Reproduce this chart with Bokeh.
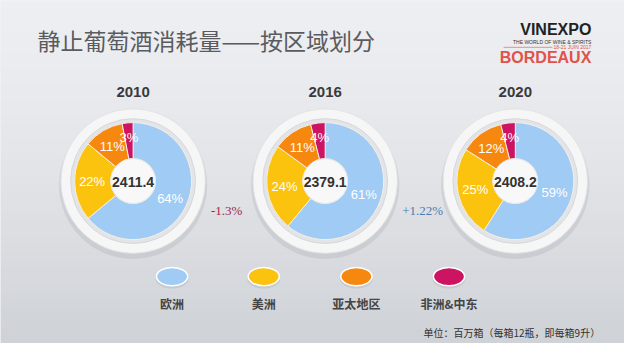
import numpy as np
from bokeh.plotting import figure
from bokeh.models import Range1d
from bokeh.core.properties import value
from bokeh.embed import file_html
from bokeh.resources import INLINE

# ---- data ----
years = ["2010", "2016", "2020"]
regions = ["欧洲", "美洲", "亚太地区", "非洲&中东"]
region_colors = ["#9fcbf5", "#fcc30e", "#f6870f", "#cd1462"]
share_2010 = [64, 22, 11, 3]
share_2016 = [61, 24, 11, 4]
share_2020 = [59, 25, 12, 4]
shares = [share_2010, share_2016, share_2020]
totals = ["2411.4", "2379.1", "2408.2"]
changes = ["-1.3%", "+1.22%"]
change_colors = ["#9b2a4e", "#4a7eae"]
title_text = "静止葡萄酒消耗量——按区域划分"
unit_text = "单位：百万箱（每箱12瓶，即每箱9升）"

# ---- layout ----
W, H = 624, 343
cx_list = [136, 333, 528]
cy = 189
R_OUT, R_PIE, R_HOLE = 74, 60, 23

p = figure(width=W, height=H, x_range=Range1d(0, 640), y_range=Range1d(359, 0),
           output_backend="svg", toolbar_location=None, min_border=0,
           x_axis_type=None, y_axis_type=None)
p.grid.visible = False
p.outline_line_color = None
p.background_fill_color = "#e4e6ea"
p.border_fill_color = "#e4e6ea"

# background vertical gradient (decoration)
n = 45
edges = np.linspace(0, 359, n + 1)
c_top = np.array([0xee, 0xef, 0xf2])
c_bot = np.array([0xcf, 0xd2, 0xd7])
cols = []
for i in range(n):
    t = (i / (n - 1)) ** 1.4
    c = (c_top * (1 - t) + c_bot * t).astype(int)
    cols.append("#%02x%02x%02x" % tuple(c))
p.quad(left=0, right=640, top=edges[:-1], bottom=edges[1:] + 0.5, fill_color=cols, line_color=None)

f_sans = value("Liberation Sans")
f_cjk = value("Noto Sans CJK SC")

# title
p.text(x=[38], y=[41], text=[title_text], text_font=f_cjk, text_font_size="23px",
       text_color="#5a5b5e", text_baseline="middle", text_align="left")

# logo
p.text(x=[606], y=[30], text=["VINEXPO"], text_font=f_sans, text_font_style="bold",
       text_font_size="16px", text_color="#222222", text_align="right", text_baseline="middle")
p.text(x=[606], y=[43], text=["THE WORLD OF WINE & SPIRITS"], text_font=f_sans,
       text_font_size="5px", text_color="#333333", text_align="right", text_baseline="middle")
p.text(x=[606], y=[49], text=["18-21 JUIN 2017"], text_font=f_sans,
       text_font_size="5px", text_color="#e0524a", text_align="right", text_baseline="middle")
p.segment(x0=[516], y0=[49], x1=[566], y1=[49], line_color="#e0524a", line_width=0.6)
p.text(x=[606], y=[60], text=["BORDEAUX"], text_font=f_sans, text_font_style="bold",
       text_font_size="16px", text_color="#e0524a", text_align="right", text_baseline="middle")

for k, (cx, yr, sh, tot) in enumerate(zip(cx_list, years, shares, totals)):
    # year
    p.text(x=[cx], y=[96], text=[yr], text_font=f_sans, text_font_style="bold",
           text_font_size="15px", text_color="#3a3a3c", text_align="center", text_baseline="middle")
    # ring decoration
    p.circle(x=[cx], y=[cy + 4], radius=R_OUT + 2, fill_color="#aeb2b8", fill_alpha=0.35, line_color=None)
    p.circle(x=[cx], y=[cy], radius=R_OUT, fill_color="#f6f6f7", line_color="#e2e3e6")
    p.circle(x=[cx], y=[cy], radius=R_PIE + 4, fill_color="#e3e4e7", line_color="#d6d8db")
    # wedges
    vals = np.array(sh, dtype=float)
    frac = vals / vals.sum()
    cum = np.concatenate([[0], np.cumsum(frac)])
    start = np.pi / 2 - cum[:-1] * 2 * np.pi
    end = np.pi / 2 - cum[1:] * 2 * np.pi
    p.annular_wedge(x=cx, y=cy, inner_radius=R_HOLE, outer_radius=R_PIE,
                    start_angle=start, end_angle=end, direction="clock",
                    fill_color=region_colors, line_color="#f4efe4", line_width=1)
    # hole
    p.circle(x=[cx], y=[cy], radius=R_HOLE, fill_color="#f8f8f8", line_color="#e6e6e6")
    p.text(x=[cx], y=[cy + 1], text=[tot], text_font=f_sans, text_font_style="bold",
           text_font_size="14px", text_color="#333333", text_align="center", text_baseline="middle")
    # labels
    mid = (start + end) / 2
    rr = np.where(frac < 0.06, 46, 42)
    lx = cx + rr * np.cos(mid)
    ly = cy - rr * np.sin(mid)
    p.text(x=lx, y=ly, text=["%d%%" % v for v in sh], text_font=f_sans,
           text_font_size="13px", text_color="#ffffff", text_align="center", text_baseline="middle")

# changes between years
p.text(x=[232, 433], y=[220, 220], text=changes, text_font=value("Liberation Serif"),
       text_font_size="13px", text_color=change_colors, text_align="center", text_baseline="middle")

# legend
leg_x = [176, 270, 365, 460]
p.ellipse(x=leg_x, y=[291] * 4, width=34, height=21, fill_color="#b0b4ba", fill_alpha=0.4, line_color=None)
p.ellipse(x=leg_x, y=[289] * 4, width=32, height=19, fill_color=region_colors,
          line_color="#ffffff", line_width=1.5)
p.text(x=leg_x, y=[317] * 4, text=regions, text_font=f_cjk, text_font_style="bold",
       text_font_size="12px", text_color="#444444", text_align="center", text_baseline="middle")

# unit
p.text(x=[615], y=[348], text=[unit_text], text_font=f_cjk, text_font_size="10px",
       text_color="#333333", text_align="right", text_baseline="middle")

open("out.html", "w").write(file_html(p, INLINE))
